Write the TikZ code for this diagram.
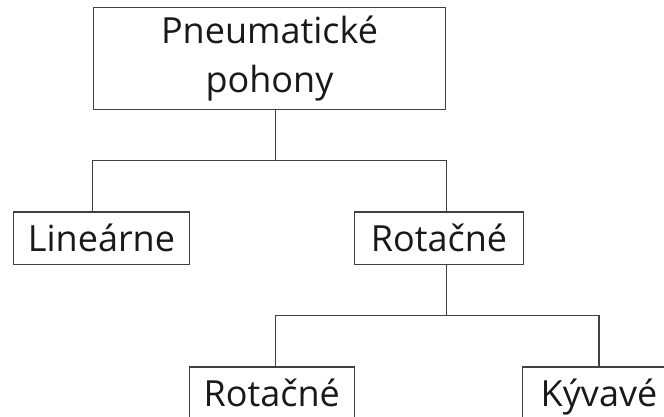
\documentclass[tikz,border=0pt]{standalone}
\usepackage{fontspec}
\setmainfont{Open Sans}
\begin{document}
\begin{tikzpicture}[x=1pt,y=1pt,
  box/.style={draw=black!75,line width=1.2pt,rectangle,inner sep=0pt,
    font=\fontsize{36}{49}\selectfont,text=black!90,align=center},
  rowbox/.style={box,minimum height=52.3pt,text height=26pt,text depth=0pt},
  conn/.style={draw=black!75,line width=1.2pt}]
\clip (0,0) rectangle (664,417);
\node[box,minimum width=352.4pt,minimum height=102pt] (top) at (269.5,358.7) {Pneumatické\\pohony};
\node[rowbox,minimum width=176.4pt] (lin) at (101.5,178.85) {Lineárne};
\node[rowbox,minimum width=168.6pt] (rot) at (439,178.85) {Rotačné};
\node[rowbox,minimum width=165pt] (rot2) at (271.8,23.85) {Rotačné};
\node[rowbox,minimum width=152.6pt] (kyv) at (599,23.85) {Kývavé};
\coordinate (j1) at (275.7,256.3);
\coordinate (j2) at (275.7,101.3);
\draw[conn] (top.south -| j1) -- (j1);
\draw[conn] (lin.north -| top.west) -- (top.west |- j1) -- (top.east |- j1) -- (rot.north -| top.east);
\draw[conn] (rot.south -| top.east) -- (top.east |- j2);
\draw[conn] (rot2.north -| j2) -- (j2) -- (j2 -| kyv.north) -- (kyv.north);
\end{tikzpicture}
\end{document}
